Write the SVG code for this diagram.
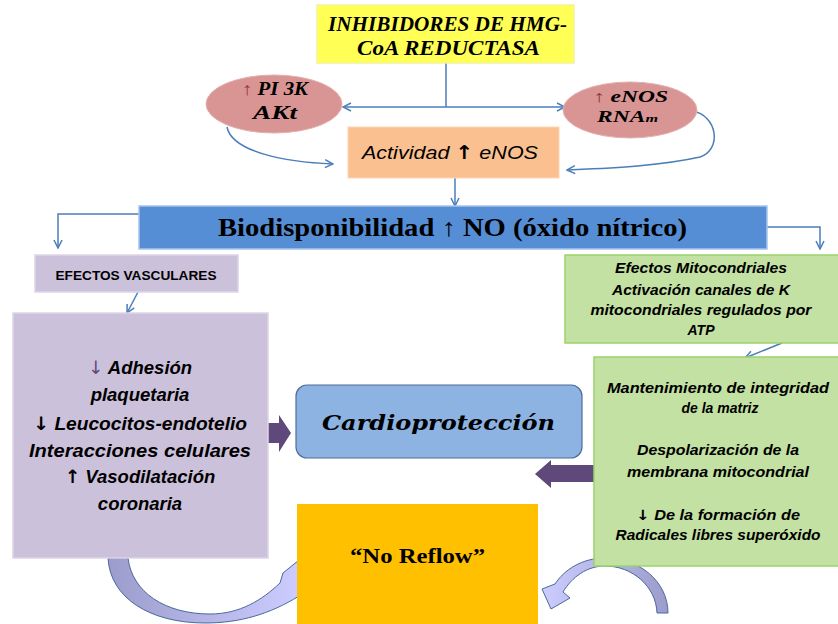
<svg xmlns="http://www.w3.org/2000/svg" width="838" height="624" viewBox="0 0 838 624">
<defs>
<marker id="ah" viewBox="0 0 10 10" refX="9" refY="5" markerWidth="10" markerHeight="10" markerUnits="userSpaceOnUse" orient="auto"><path d="M1,1 L9,5 L1,9" fill="none" stroke="#4A7EBB" stroke-width="1.5"/></marker>
<linearGradient id="gL" x1="0" y1="0" x2="1" y2="0"><stop offset="0" stop-color="#9C9CCC"/><stop offset="1" stop-color="#CCCCFF"/></linearGradient>
<linearGradient id="gR" x1="1" y1="0" x2="0" y2="0"><stop offset="0" stop-color="#9C9CCC"/><stop offset="1" stop-color="#CCCCFF"/></linearGradient>
<style>
.conn{fill:none;stroke:#4A7EBB;stroke-width:1.5}
.arr{marker-end:url(#ah)}
.blk{fill:#5F497A}
.curve{stroke:#4A6A9A;stroke-width:1}
.lav{fill:#CCC1DA;stroke:#DDD5E8;stroke-width:1.5}
.grn{fill:#C3E1A2;stroke:#9BD36B;stroke-width:1.5}
.pink{fill:#D99594;stroke:#E3AFAE;stroke-width:1}
.tms{font-family:"Liberation Serif","Times New Roman",serif;font-weight:bold;font-style:italic;fill:#000}
.sans{font-family:"Liberation Sans",Arial,sans-serif;fill:#000}
.bi{font-weight:bold;font-style:italic}
.mid{text-anchor:middle}
.ar{font-family:"DejaVu Sans",sans-serif;font-style:normal;font-weight:bold}
</style>
</defs>

<g id="connectors">
<path class="conn" d="M446,63 L446,107"/>
<path class="conn arr" d="M446,107 L343,107"/>
<path class="conn arr" d="M446,107 L565,107"/>
<path class="conn arr" d="M227,127 C232,152 285,162 333,164"/>
<path class="conn arr" d="M692,111 C718,115 722,150 700,157 C660,166 610,168 567,170"/>
<path class="conn arr" d="M455,178 L455,206"/>
<path class="conn arr" d="M139,214 L58,214 L58,248"/>
<path class="conn arr" d="M767,227 L820,227 L820,249"/>
<path class="conn arr" d="M138,292 L127,313"/>
<path class="conn arr" d="M782,343 L745,358"/>
<path class="blk" d="M268,423 L279,423 L279,415 L291,433 L279,452 L279,443 L268,443 Z"/>
<path class="blk" d="M595,465 L551,465 L551,460 L535,474 L551,488 L551,482 L595,482 Z"/>
<path class="curve" fill="url(#gL)" d="M108,558 L128,558 C132,592 165,614 210,614 C240,614 262,600 280,583 L283,573 L299,560 L299,596 C270,614 240,623 205,623 C150,623 110,598 108,558 Z"/>
<path class="curve" fill="url(#gR)" d="M668,613 C668,582 640,558 605,558 C582,558 564,570 555,584 L542,589 L551,609 L570,598 L563,592 C572,577 587,566 605,566 C632,566 656,586 657,613 Z"/>
</g>

<g id="inhibidores">
<rect x="317" y="5" width="257" height="58" fill="#FFFF55" stroke="#F4F49A" stroke-width="1.5"/>
<text class="tms" x="328" y="31" font-size="22" textLength="239" lengthAdjust="spacingAndGlyphs">INHIBIDORES DE HMG-</text>
<text class="tms" x="357" y="55" font-size="22" textLength="183" lengthAdjust="spacingAndGlyphs">CoA REDUCTASA</text>
</g>

<g id="pi3k">
<ellipse class="pink" cx="274" cy="104" rx="68" ry="29"/>
<text class="tms" x="242" y="95" font-size="18" textLength="66" lengthAdjust="spacingAndGlyphs"><tspan fill="#943634" font-style="normal" font-weight="normal">↑</tspan> PI 3K</text>
<text class="tms" x="253" y="119" font-size="19" textLength="44" lengthAdjust="spacingAndGlyphs">AKt</text>
</g>

<g id="enos-rna">
<ellipse class="pink" cx="630" cy="110" rx="67" ry="28"/>
<text class="tms" x="593" y="102" font-size="16" textLength="75" lengthAdjust="spacingAndGlyphs"><tspan fill="#943634" font-style="normal" font-weight="normal">↑</tspan> eNOS</text>
<text class="tms" x="597" y="122" font-size="16" textLength="61" lengthAdjust="spacingAndGlyphs">RNA<tspan font-size="11">m</tspan></text>
</g>

<g id="actividad">
<rect x="348" y="127" width="211" height="51" fill="#FAC090" stroke="#FCD5B4" stroke-width="1"/>
<text class="sans" x="362" y="159" font-size="19" font-style="italic" textLength="176" lengthAdjust="spacingAndGlyphs">Actividad <tspan class="ar">↑</tspan> eNOS</text>
</g>

<g id="biodisponibilidad">
<rect x="139" y="206" width="628" height="43" fill="#558ED5" stroke="#A9C4EC" stroke-width="1.5"/>
<text x="218" y="236" font-family="'Liberation Serif','Times New Roman',serif" font-weight="bold" font-size="25" fill="#000" textLength="469" lengthAdjust="spacingAndGlyphs">Biodisponibilidad ↑ NO (óxido nítrico)</text>
</g>

<g id="efectos-vasculares">
<rect class="lav" x="35" y="255" width="203" height="37"/>
<text class="sans mid" x="136" y="280" font-size="13.5" font-weight="bold" textLength="161" lengthAdjust="spacingAndGlyphs">EFECTOS VASCULARES</text>
</g>

<g id="vasculares-detalle">
<rect class="lav" x="13" y="313" width="255" height="245"/>
<g class="sans bi mid" font-size="18.5">
<text x="140" y="374"><tspan fill="#604A7B" font-family="DejaVu Sans,sans-serif" font-weight="normal" font-style="normal">↓</tspan> Adhesión</text>
<text x="140" y="401">plaquetaria</text>
<text x="140" y="430" textLength="214" lengthAdjust="spacingAndGlyphs"><tspan class="ar">↓</tspan> Leucocitos-endotelio</text>
<text x="140" y="457" textLength="222" lengthAdjust="spacingAndGlyphs">Interacciones celulares</text>
<text x="140" y="483"><tspan class="ar">↑</tspan> Vasodilatación</text>
<text x="140" y="510">coronaria</text>
</g>
</g>

<g id="cardioproteccion">
<rect x="296" y="385" width="286" height="73" rx="11" fill="#8DB3E2" stroke="#4F6D9A" stroke-width="1.2"/>
<text x="322" y="430" font-family="'DejaVu Serif',serif" font-weight="bold" font-style="italic" font-size="21" fill="#000" textLength="233" lengthAdjust="spacingAndGlyphs">Cardioprotección</text>
</g>

<g id="efectos-mitocondriales">
<rect class="grn" x="565" y="255" width="280" height="88"/>
<g class="sans mid" font-style="italic" font-size="14" font-weight="bold">
<text x="701" y="273" textLength="172" lengthAdjust="spacingAndGlyphs">Efectos Mitocondriales</text>
<text x="701" y="295" textLength="178" lengthAdjust="spacingAndGlyphs">Activación  canales de K</text>
<text x="701" y="315" textLength="221" lengthAdjust="spacingAndGlyphs">mitocondriales  regulados por</text>
<text x="701" y="335">ATP</text>
</g>
</g>

<g id="mitocondria-detalle">
<rect class="grn" x="594" y="357" width="250" height="209"/>
<g class="sans mid" font-style="italic" font-size="14" font-weight="bold">
<text x="718" y="393" textLength="222" lengthAdjust="spacingAndGlyphs">Mantenimiento  de  integridad</text>
<text x="720" y="413">de la matriz</text>
<text x="718" y="455" textLength="162" lengthAdjust="spacingAndGlyphs">Despolarización de la</text>
<text x="718" y="477" textLength="182" lengthAdjust="spacingAndGlyphs">membrana  mitocondrial</text>
<text x="718" y="520" textLength="164" lengthAdjust="spacingAndGlyphs"><tspan class="ar">↓</tspan> De la formación  de</text>
<text x="718" y="540" textLength="205" lengthAdjust="spacingAndGlyphs">Radicales  libres  superóxido</text>
</g>
</g>

<g id="no-reflow">
<rect x="297" y="504" width="241" height="125" fill="#FFC000"/>
<text x="350" y="563" font-family="'Liberation Serif','Times New Roman',serif" font-weight="bold" font-size="21" fill="#000" textLength="135" lengthAdjust="spacingAndGlyphs">“No  Reflow”</text>
</g>
</svg>
